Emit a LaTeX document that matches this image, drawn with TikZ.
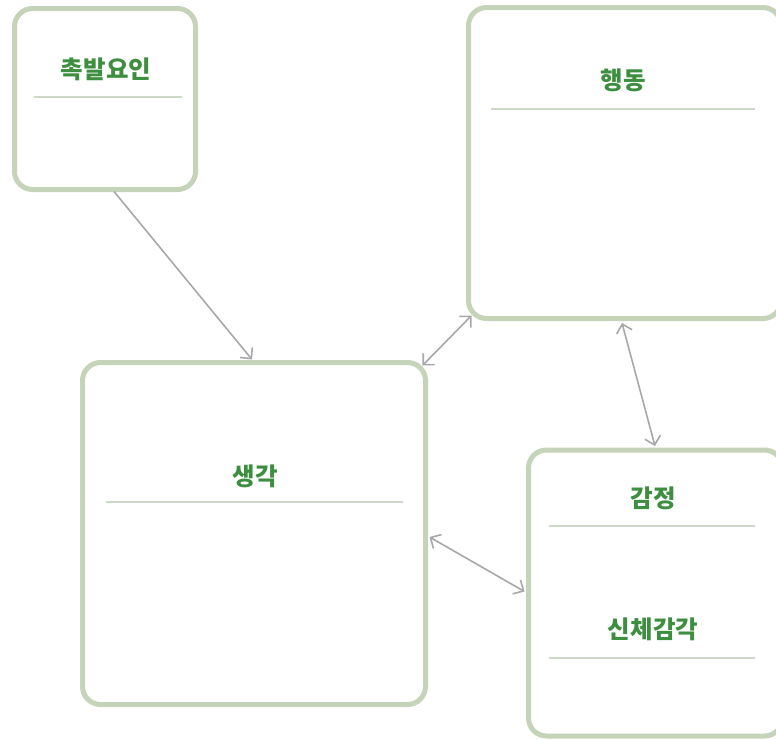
\documentclass[tikz,border=0pt]{standalone}
\usepackage{fontspec}
\newfontfamily\kr{Noto Sans CJK KR}
\usetikzlibrary{arrows.meta,calc}
\definecolor{boxborder}{HTML}{C5D3B8}
\definecolor{titlegreen}{HTML}{3D8F3F}
\definecolor{sepline}{HTML}{CCD9C4}
\definecolor{arrowgray}{HTML}{A8A8AC}
\tikzset{
  panel/.style={draw=boxborder, line width=5pt, rounded corners=18pt, fill=white, inner sep=0pt, outer sep=0pt},
  paneltitle/.style={text=titlegreen, font=\kr\bfseries\fontsize{24.5}{28}\selectfont, inner sep=0pt},
  separator/.style={draw=sepline, line width=1.4pt},
  link/.style={draw=arrowgray, line width=1.6pt},
  barb/.tip={Straight Barb[length=8pt,width=16pt]}
}
\begin{document}
\begin{tikzpicture}[x=1pt,y=-1pt]
\useasboundingbox (0,0) rectangle (776,739);
\clip (0,0) rectangle (776,739);
\fill[white] (0,0) rectangle (776,739);
% boxes
\node[panel, minimum width=181pt, minimum height=181pt] (A) at (105,99) {};
\node[panel, minimum width=312.5pt, minimum height=311pt] (B) at (624.75,163) {};
\node[panel, minimum width=343pt, minimum height=342pt] (C) at (254,533.5) {};
\node[panel, minimum width=254pt, minimum height=286pt] (D) at (655.5,593) {};
% titles
\node[paneltitle] (tA) at (106,69) {촉발요인};
\node[paneltitle] (tB) at (623,80) {행동};
\node[paneltitle] (tC) at (255,476) {생각};
\node[paneltitle] (tD1) at (653,498) {감정};
\node[paneltitle] (tD2) at (653,629) {신체감각};
% separators
\coordinate (sA1) at (34,97); \coordinate (sA2) at (182,97);
\coordinate (sB1) at (491,109); \coordinate (sB2) at (755,109);
\coordinate (sC1) at (106,502); \coordinate (sC2) at (403,502);
\coordinate (sD1) at (549,526); \coordinate (sD2) at (755,526);
\coordinate (sD3) at (549,658); \coordinate (sD4) at (755,658);
\path[separator] (sA1) -- (sA2);
\path[separator] (sB1) -- (sB2);
\path[separator] (sC1) -- (sC2);
\path[separator] (sD1) -- (sD2);
\path[separator] (sD3) -- (sD4);
% connectors
\coordinate (a1) at ($(A.south)+(9,2)$);
\coordinate (c1) at ($(C.north)+(-2,-3)$);
\coordinate (c2) at ($(C.north east)+(-3,3)$);
\coordinate (b1) at ($(B.south west)+(3,-3)$);
\coordinate (b2) at (622,323);
\coordinate (d1) at (655,446);
\coordinate (c3) at ($(C.east)+(4,3.5)$);
\coordinate (d2) at ($(D.west)+(-4,-1.5)$);
\path[link, -barb] (a1) -- (c1);
\path[link, barb-barb] (c2) -- (b1);
\path[link, barb-barb] (b2) -- (d1);
\path[link, barb-barb] (c3) -- (d2);
\end{tikzpicture}
\end{document}
